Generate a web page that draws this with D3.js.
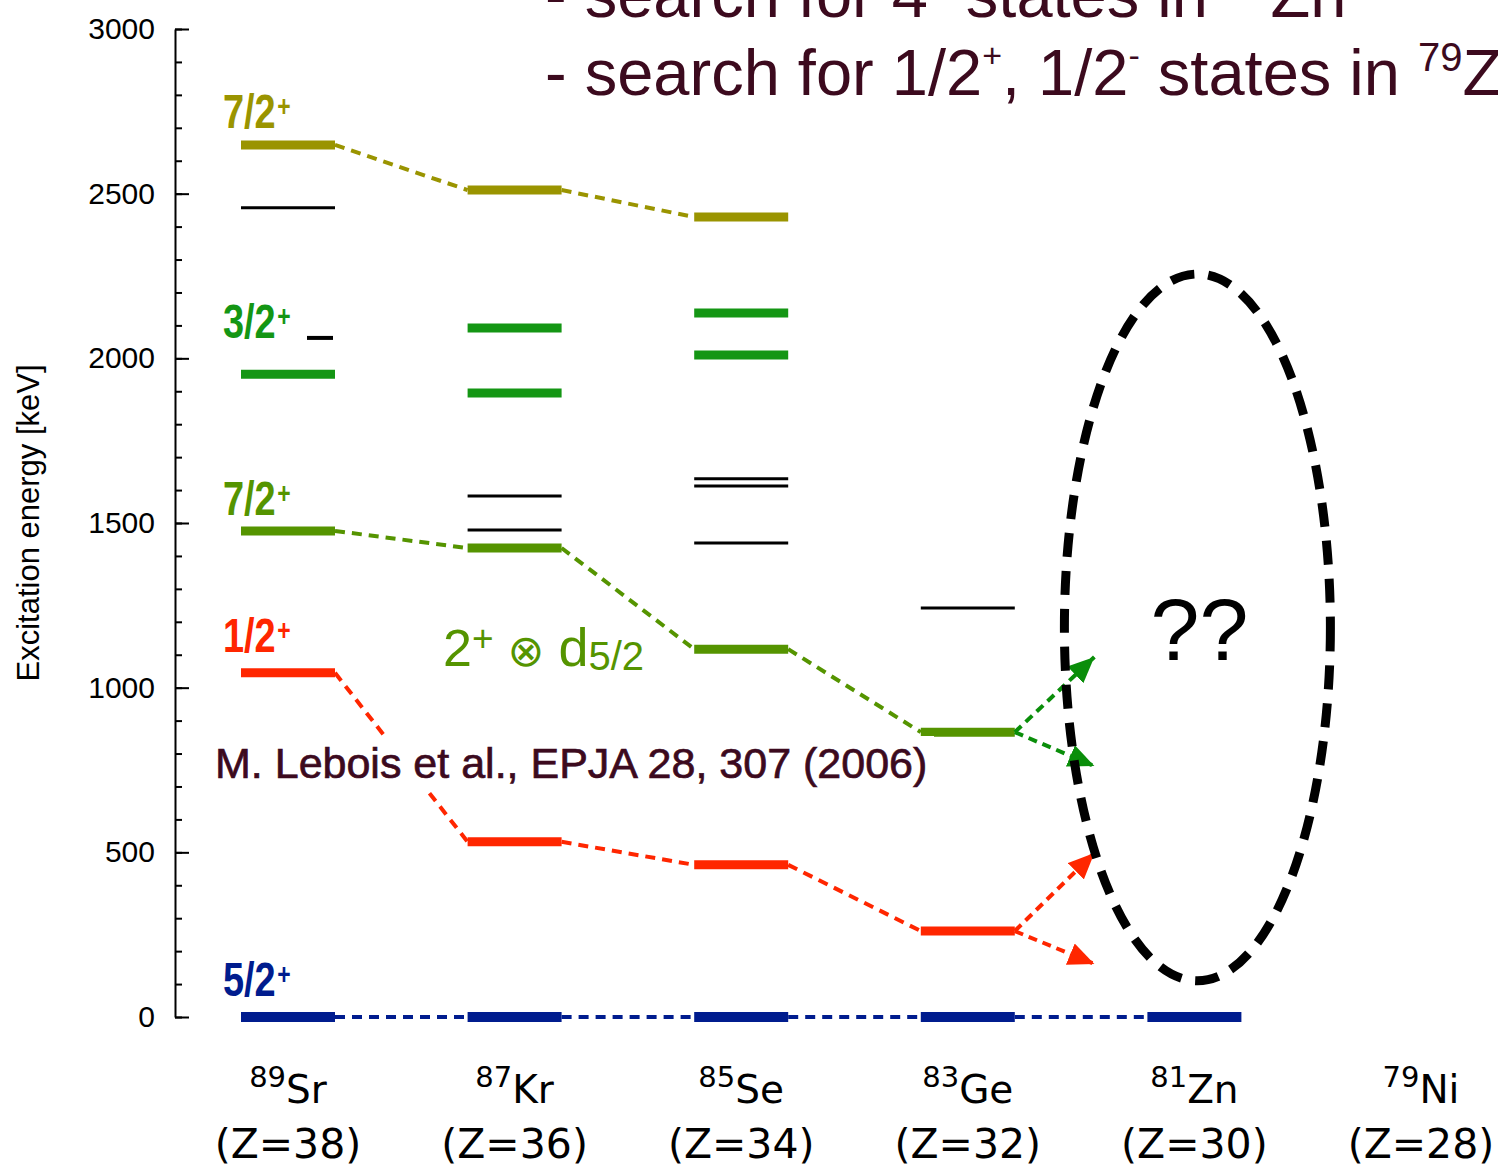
<!DOCTYPE html>
<html>
<head>
<meta charset="utf-8">
<script src="https://cdn.jsdelivr.net/npm/d3@7"></script>
<style>
  body { margin: 0; background: #fff; }
  svg { display: block; }
</style>
</head>
<body>
<svg id="chart" width="1498" height="1168"></svg>
<script>
// Isotones along N = 51: nuclei, mass numbers and proton numbers
const nuclei = ["Sr", "Kr", "Se", "Ge", "Zn", "Ni"];
const massNumbers = [89, 87, 85, 83, 81, 79];
const protonNumbers = [38, 36, 34, 32, 30, 28];

// Level energies in keV, in the order of the nuclei above
const groundState = [0, 0, 0, 0, 0];            // 5/2+
const sHalfState = [1045, 532, 462, 261];       // 1/2+
const couplingState = [1476, 1424, 1117, 865];  // 7/2+ (2+ x d5/2)
const upperSevenHalf = [2648, 2511, 2429];      // 7/2+
const threeHalfLevels = [["Sr", 1952], ["Kr", 1895], ["Kr", 2092], ["Se", 2010], ["Se", 2138]];
const otherLevels = [["Sr", 2457], ["Kr", 1479], ["Kr", 1582], ["Se", 1439], ["Se", 1612], ["Se", 1634], ["Ge", 1242]];
const otherShortLevels = [["Sr", 2062]];

// Expected positions of the states in 81Zn (arrow tips), keV
const couplingArrowTargets = [1093, 762];
const sHalfArrowTargets = [498, 161];

// Energy window of the dashed search region around 81Zn, keV
const searchRegion = [110, 2256];

// Axis ticks
const majorTicks = [0, 500, 1000, 1500, 2000, 2500, 3000];
const minorTicks = d3.range(0, 3001, 100);

// Spin-parity labels
const spinLabels = ["7/2", "3/2", "7/2", "1/2", "5/2"];

const colors = {
  olive: "#9a9400",
  green: "#149614",
  lime: "#559400",
  red: "#ff2600",
  blue: "#001c8e",
  arrowGreen: "#0a8e0a",
  maroon: "#3c0a1e"
};

const svg = d3.select("#chart");
const sans = "'Liberation Sans', Arial, Helvetica, sans-serif";

const x = d3.scalePoint().domain(nuclei).range([288, 1421]);
const y = d3.scaleLinear().domain([0, 3000]).range([1017, 29]);
const halfW = 47;

// ----- y axis -----
const axisG = svg.append("g").attr("transform", "translate(175,0)");
axisG.call(d3.axisLeft(y).tickValues(minorTicks).tickSizeInner(-7).tickSizeOuter(0).tickFormat(""))
  .call(g => g.select(".domain").remove())
  .selectAll("line").attr("stroke", "#000").attr("stroke-width", 2);
const majorG = svg.append("g").attr("transform", "translate(175,0)")
  .call(d3.axisLeft(y).tickValues(majorTicks).tickFormat(d3.format("d"))
    .tickSizeInner(-14).tickSizeOuter(0).tickPadding(20));
majorG.select(".domain").attr("stroke", "#000").attr("stroke-width", 2);
majorG.selectAll(".tick line").attr("stroke", "#000").attr("stroke-width", 2);
majorG.selectAll(".tick text").attr("font-family", sans).attr("font-size", 30).attr("fill", "#000");

svg.append("text")
  .attr("transform", "translate(39,523) rotate(-90)")
  .attr("text-anchor", "middle")
  .attr("font-family", sans).attr("font-size", 31).attr("fill", "#000")
  .text("Excitation energy [keV]");

// ----- connectors between levels of the same character -----
function connect(values, color, dash) {
  const segs = d3.pairs(values.map((e, i) => [nuclei[i], e]));
  svg.append("g").selectAll("line").data(segs).join("line")
    .attr("x1", d => x(d[0][0]) + halfW).attr("y1", d => y(d[0][1]))
    .attr("x2", d => x(d[1][0]) - halfW).attr("y2", d => y(d[1][1]))
    .attr("stroke", color).attr("stroke-width", 4)
    .attr("stroke-dasharray", dash);
}
connect(upperSevenHalf, colors.olive, "10,7");
connect(couplingState, colors.lime, "10,7");
connect(sHalfState, colors.red, "10,7");
connect(groundState, colors.blue, "10,7");

// ----- level bars -----
function levels(data, color, width, left, right) {
  svg.append("g").selectAll("line").data(data).join("line")
    .attr("x1", d => x(d[0]) + left).attr("x2", d => x(d[0]) + right)
    .attr("y1", d => y(d[1])).attr("y2", d => y(d[1]))
    .attr("stroke", color).attr("stroke-width", width);
}
const seq = vals => vals.map((e, i) => [nuclei[i], e]);
levels(otherLevels, "#000", 3, -halfW, halfW);
levels(otherShortLevels, "#000", 4, 19, 45);
levels(seq(upperSevenHalf), colors.olive, 9, -halfW, halfW);
levels(threeHalfLevels, colors.green, 9, -halfW, halfW);
levels(seq(couplingState), colors.lime, 9, -halfW, halfW);
levels(seq(sHalfState), colors.red, 9, -halfW, halfW);
levels(seq(groundState), colors.blue, 10, -halfW, halfW);

// ----- arrows towards 81Zn -----
const defs = svg.append("defs");
function marker(id, color) {
  defs.append("marker").attr("id", id)
    .attr("markerUnits", "userSpaceOnUse")
    .attr("viewBox", "0 -12 27 24")
    .attr("markerWidth", 27).attr("markerHeight", 24)
    .attr("refX", 26).attr("refY", 0).attr("orient", "auto")
    .append("path").attr("d", "M0,-11.5L26,0L0,11.5Z").attr("fill", color);
}
marker("headGreen", colors.arrowGreen);
marker("headRed", colors.red);

const gapStart = x("Ge") + halfW, gapEnd = x("Zn") - halfW;
const tipX = gapStart + 0.6 * (gapEnd - gapStart);
function arrows(fromE, targets, color, id) {
  svg.append("g").selectAll("line").data(targets).join("line")
    .attr("x1", gapStart).attr("y1", y(fromE))
    .attr("x2", tipX).attr("y2", d => y(d))
    .attr("stroke", color).attr("stroke-width", 4)
    .attr("stroke-dasharray", "9,6")
    .attr("marker-end", `url(#${id})`);
}
arrows(couplingState[3], couplingArrowTargets, colors.arrowGreen, "headGreen");
arrows(sHalfState[3], sHalfArrowTargets, colors.red, "headRed");

// ----- spin-parity labels -----
const labelSpecs = [
  { text: spinLabels[0], color: colors.olive, base: y(upperSevenHalf[0]) - 17 },
  { text: spinLabels[1], color: colors.green, base: y(threeHalfLevels[0][1]) - 36 },
  { text: spinLabels[2], color: colors.lime, base: y(couplingState[0]) - 16 },
  { text: spinLabels[3], color: colors.red, base: y(sHalfState[0]) - 21 },
  { text: spinLabels[4], color: colors.blue, base: y(groundState[0]) - 21 }
];
labelSpecs.forEach(s => {
  const t = svg.append("text")
    .attr("transform", `translate(223,${s.base}) scale(0.79,1)`)
    .attr("font-family", sans).attr("font-weight", "bold").attr("fill", s.color);
  t.append("tspan").attr("font-size", 48).text(s.text);
  t.append("tspan").attr("font-size", 29).attr("dx", 2).attr("dy", -12).text("+");
});

// coupling annotation
const coup = svg.append("text").attr("x", 443).attr("y", 666)
  .attr("font-family", sans).attr("fill", colors.lime);
coup.append("tspan").attr("font-size", 52).text("2");
coup.append("tspan").attr("font-size", 37).attr("dy", -15).text("+");
coup.append("tspan").attr("font-size", 44).attr("dy", 15).attr("font-family", "'DejaVu Sans', sans-serif").text(" \u2297 ");
coup.append("tspan").attr("font-size", 54).text("d");
coup.append("tspan").attr("font-size", 40).attr("dy", 4).text("5/2");

// reference
const refText = "M. Lebois et al., EPJA 28, 307 (2006)";
svg.append("rect").attr("x", 212).attr("y", 736).attr("width", 722).attr("height", 56).attr("fill", "#fff");
svg.append("text").attr("x", 215).attr("y", 778)
  .attr("font-family", sans).attr("font-size", 43)
  .attr("fill", colors.maroon).attr("stroke", colors.maroon).attr("stroke-width", 0.7)
  .text(refText);

// ----- search region around 81Zn -----
svg.append("ellipse")
  .attr("cx", x("Zn") + 3)
  .attr("cy", (y(searchRegion[0]) + y(searchRegion[1])) / 2)
  .attr("rx", 133)
  .attr("ry", (y(searchRegion[0]) - y(searchRegion[1])) / 2)
  .attr("fill", "none").attr("stroke", "#000").attr("stroke-width", 9)
  .attr("stroke-dasharray", "24,14");
svg.append("text").attr("x", x("Zn") + 5).attr("y", 660)
  .attr("text-anchor", "middle")
  .attr("font-family", sans).attr("font-size", 88).attr("fill", "#000")
  .text("??");

// ----- nucleus labels -----
const nucG = svg.append("g").attr("font-family", "'DejaVu Sans', sans-serif").attr("fill", "#000");
nuclei.forEach((n, i) => {
  const t = nucG.append("text").attr("x", x(n)).attr("y", 1103).attr("text-anchor", "middle");
  t.append("tspan").attr("font-size", 29).attr("dy", -16).text(massNumbers[i]);
  t.append("tspan").attr("font-size", 39).attr("dy", 16).text(n);
  nucG.append("text").attr("x", x(n)).attr("y", 1158).attr("text-anchor", "middle")
    .attr("font-size", 41).text(`(Z=${protonNumbers[i]})`);
});

// ----- goals text (runs past the right edge) -----
const goals = svg.append("g").attr("font-family", sans).attr("fill", colors.maroon);
const g1 = goals.append("text").attr("x", 545).attr("y", 17).attr("font-size", 65);
g1.append("tspan").text("- search for 4");
g1.append("tspan").attr("font-size", 34).attr("dy", -28).text("+");
g1.append("tspan").attr("dy", 28).text(" states in ");
g1.append("tspan").attr("font-size", 40).attr("dy", -24).text("80");
g1.append("tspan").attr("dy", 24).text("Zn");
const g2 = goals.append("text").attr("x", 545).attr("y", 95).attr("font-size", 65);
g2.append("tspan").text("- search for 1/2");
g2.append("tspan").attr("font-size", 34).attr("dy", -28).text("+");
g2.append("tspan").attr("dy", 28).text(", 1/2");
g2.append("tspan").attr("font-size", 34).attr("dy", -28).text("-");
g2.append("tspan").attr("dy", 28).text(" states in ");
g2.append("tspan").attr("font-size", 40).attr("dy", -24).text("79");
g2.append("tspan").attr("dy", 24).text("Zn");
</script>
</body>
</html>
